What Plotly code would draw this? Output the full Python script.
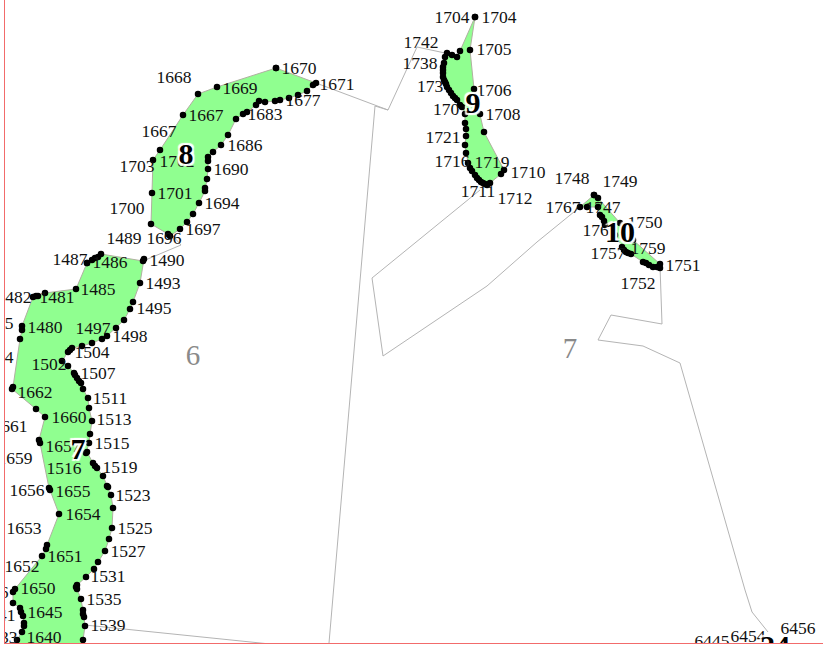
import plotly.graph_objects as go

# Map canvas extents
x_range = [5, 823]
y_range = [643, 0]

# Regions: vertex coordinates
region_7_x = [87,92,95,98,101,143,144,140,133,130,124,116,107,102,92,82,72,70,68,62,68,74,75,77,79,81,83,88,89,92,90,89,86,87,93,95,97,103,107,108,111,113,112,109,105,98,94,86,77,76,77,81,83,83,84,85,83,82,15,17,22,24,24,23,21,20,13,13,15,42,46,47,59,50,49,40,39,45,36,12,13,20,22,22,33,36,38,45,76,87]
region_7_y = [263,260,258,257,254,261,259,283,302,309,320,328,336,339,343,346,348,350,352,361,366,373,375,378,381,383,389,398,408,421,434,443,453,452,463,466,468,476,486,487,495,508,528,539,551,562,569,577,585,587,589,599,610,614,617,626,640,655,655,640,632,626,623,616,612,608,603,592,589,556,549,545,514,490,488,443,440,417,409,389,387,339,330,326,297,296,296,293,289,263]

region_8_x = [276,316,313,307,298,289,280,275,265,259,256,247,243,236,228,221,213,208,208,208,207,205,205,199,193,187,180,170,168,151,152,153,160,183,198,217,276]
region_8_y = [68,83,85,91,95,98,100,101,102,101,105,112,114,119,135,145,152,157,161,169,179,188,191,203,214,222,229,236,234,224,193,160,150,115,94,87,68]

region_9_x = [475,470,474,480,484,504,501,490,487,485,483,481,479,477,475,472,470,468,466,465,466,466,465,465,462,460,457,455,453,451,449,447,446,445,444,443,443,443,443,444,445,447,452,457,460,475]
region_9_y = [17,50,89,114,132,170,174,183,185,184,183,182,180,178,175,171,168,163,153,145,136,129,123,114,107,105,100,98,96,93,90,87,84,82,80,77,73,70,67,63,57,53,55,57,51,17]

region_10_x = [594,598,620,633,660,660,657,653,649,646,643,631,628,626,624,622,615,612,605,604,602,600,598,587,580,594]
region_10_y = [195,198,223,240,264,268,267,267,265,263,262,254,253,252,250,247,235,228,225,221,217,215,207,207,207,195]

# Parcel boundaries
boundary_a_x = [316,388,375,329]
boundary_a_y = [83,110,106,643]
boundary_b_x = [445,417,388]
boundary_b_y = [53,47,110]
boundary_c_x = [480,372,383,487,537,580]
boundary_c_y = [190,278,356,286,242,207]
boundary_d_x = [660,662,611,598,643,680,745,752,768]
boundary_d_y = [266,324,315,340,346,363,590,612,632]
boundary_e_x = [28,31,85,270]
boundary_e_y = [643,621,625,644]
boundary_f_x = [143,181,173]
boundary_f_y = [261,245,236]

# Point number labels
label_text = ["1704","1704","1742","1705","1738","173","1706","170","1708","1721","1716","1719","1710","1711","1712",
              "1748","1749","1767","1747","1750","1761","1757","1759","1751","1752",
              "1670","1671","1668","1669","1677","1683","1667","1667","1686","1702","1703","1690","1701","1694","1700","1697","1696","1489",
              "1487","1486","1490","1493","1485","1482","1481","1495","1497","1480","1675","1498","1504","1674","1502","1507","1662","1511","1660","1513","1661",
              "1657","1515","1659","1516","1519","1656","1655","1523","1654","1653","1525","1527","1651","1652","1531","1650","1646","1535","1645","1641","1539","1640","1633",
              "6445","6454","6456"]
label_x = [452,499,421,494,420,430,494,446,503,443,452,492,528,478,515,
           572,620,563,603,645,600,608,648,683,638,
           299,337,174,240,303,265,206,159,245,177,137,231,175,222,127,203,164,124,
           70,110,167,163,98,14,57,154,93,45,-4,130,92,-4,49,98,35,110,69,114,10,
           63,112,15,64,120,27,73,133,83,24,135,128,65,22,108,38,-9,104,45,-2,108,44,0,
           712,748,798]
label_y = [17,17,42,49,63,86,90,109,114,137,161,162,172,191,198,
           178,181,207,207,222,230,253,248,265,283,
           68,84,77,88,100,114,115,131,145,161,166,169,193,203,208,229,238,238,
           259,262,260,283,289,297,297,308,328,327,323,336,352,357,364,373,392,398,417,419,426,
           446,443,458,468,467,490,491,495,514,528,528,551,556,566,576,588,592,599,612,615,625,637,637,
           641,636,628]

# Region numbers
region_no_text = ["8","9","10","7","24"]
region_no_x = [186,473,620,78,775]
region_no_y = [155,104,233,450,647]

# Area numbers
area_no_text = ["6","7"]
area_no_x = [193,570]
area_no_y = [358,351]

fig = go.Figure()

for bx, by in [(boundary_a_x, boundary_a_y), (boundary_b_x, boundary_b_y), (boundary_c_x, boundary_c_y),
               (boundary_d_x, boundary_d_y), (boundary_e_x, boundary_e_y), (boundary_f_x, boundary_f_y)]:
    fig.add_trace(go.Scatter(x=bx, y=by, mode="lines", line=dict(color="#b4b4b4", width=1), hoverinfo="skip"))

for rx, ry in [(region_7_x, region_7_y), (region_8_x, region_8_y), (region_9_x, region_9_y), (region_10_x, region_10_y)]:
    fig.add_trace(go.Scatter(x=rx, y=ry, mode="lines+markers", fill="toself", fillcolor="#90FF90",
                             line=dict(color="#b0b0a0", width=1),
                             marker=dict(color="black", size=6.5), hoverinfo="skip"))

fig.add_trace(go.Scatter(x=label_x, y=[v + 1.5 for v in label_y], text=label_text, mode="text", textposition="middle center",
                         textfont=dict(family="Liberation Serif", size=17.5, color="#111111"), hoverinfo="skip"))
fig.add_trace(go.Scatter(x=area_no_x, y=area_no_y, text=area_no_text, mode="text", textposition="middle center",
                         textfont=dict(family="Liberation Serif", size=29, color="#8a8a8a"), hoverinfo="skip"))
fig.add_trace(go.Scatter(x=region_no_x, y=[v + 1 for v in region_no_y], text=region_no_text, mode="text", textposition="middle center",
                         textfont=dict(family="Liberation Serif", size=30, color="black", weight="bold",
                                       shadow="2px 2px 1px white, -2px -2px 1px white, 2px -2px 1px white, -2px 2px 1px white, 0 0 2px white"),
                         hoverinfo="skip"))

fig.update_layout(
    width=823, height=648, showlegend=False, paper_bgcolor="white", plot_bgcolor="white",
    margin=dict(l=5, r=0, t=0, b=5), hovermode=False,
    xaxis=dict(range=x_range, visible=True, showgrid=False, zeroline=False, showticklabels=False, ticks="",
               showline=True, linecolor="#f26b6b", linewidth=1),
    yaxis=dict(range=y_range, visible=True, showgrid=False, zeroline=False, showticklabels=False, ticks="",
               showline=True, linecolor="#f26b6b", linewidth=1),
)
fig.write_html("out.html", post_script="document.body.style.margin='0';", config={"displayModeBar": False})
